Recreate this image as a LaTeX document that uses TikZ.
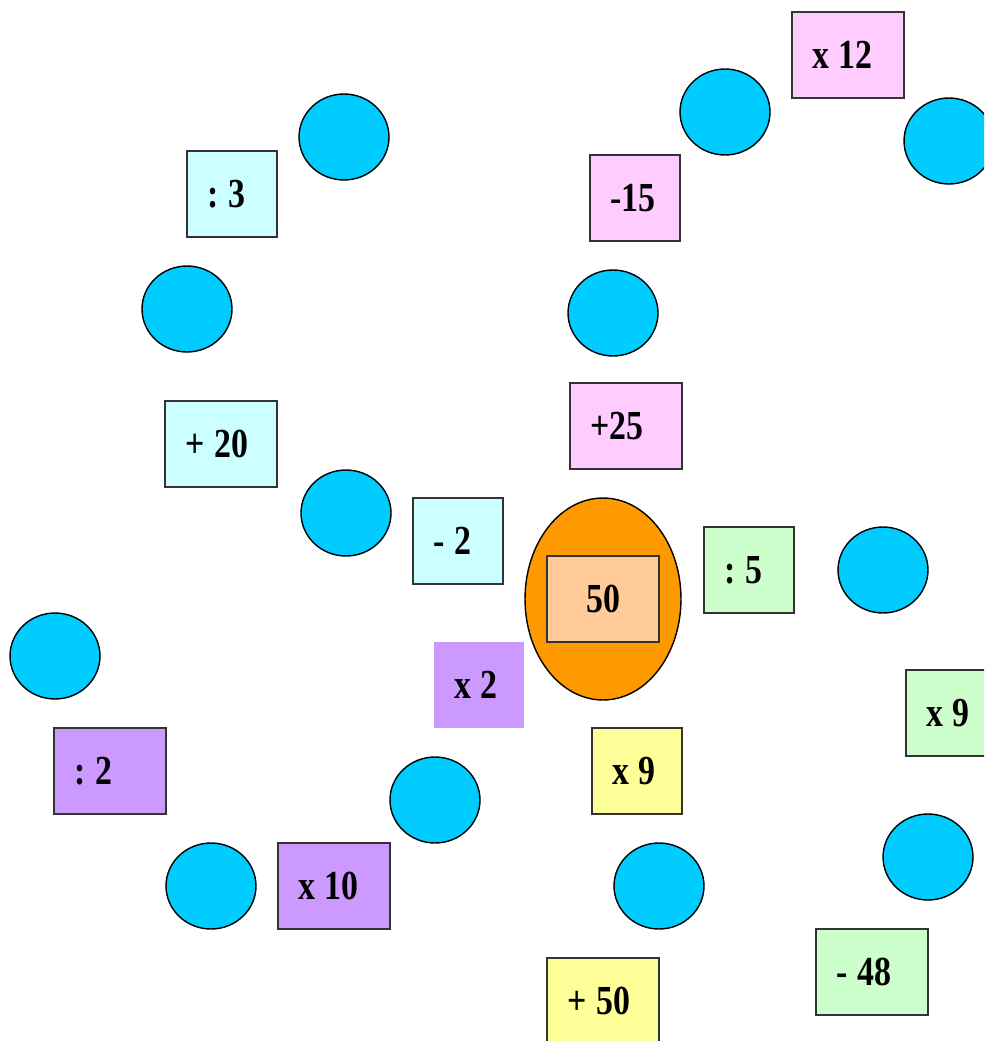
\documentclass[tikz,border=0pt]{standalone}
\usepackage{fontspec}
\usepackage{tikz}
\usetikzlibrary{shapes.geometric}
\newfontfamily\opfont{Liberation Serif}[FakeStretch=0.82]
\definecolor{stonecyan}{HTML}{00CCFF}
\definecolor{opcyan}{HTML}{CCFFFF}
\definecolor{oppink}{HTML}{FFCCFF}
\definecolor{opgreen}{HTML}{CCFFCC}
\definecolor{oppurple}{HTML}{CC99FF}
\definecolor{opyellow}{HTML}{FFFF99}
\definecolor{startorange}{HTML}{FF9900}
\definecolor{startpeach}{HTML}{FFCC99}

\begin{document}
\begin{tikzpicture}[
  x=0.02cm, y=-0.02cm,
  stone/.style={ellipse, draw=black, line width=0.8pt, fill=stonecyan, minimum width=1.8cm, minimum height=1.72cm},
  opbox/.style={rectangle, draw=black!80, line width=0.8pt, minimum height=1.72cm, inner xsep=0.4cm, inner ysep=0pt, align=left, font=\opfont\bfseries\fontsize{23.5}{26}\selectfont, execute at begin node={\spaceskip=0.24em\xspaceskip=0.24em\relax}},
  narrow/.style={opbox, text width=1.0cm},
  wide/.style={opbox, text width=1.44cm},
  egg/.style={ellipse, draw=black, line width=0.8pt, fill=startorange, minimum width=3.12cm, minimum height=4.04cm},
]
  \clip (0,0) rectangle (984,1041);
  \fill[white] (0,0) rectangle (984,1041);

  % empty stones
  \node[stone] (s1) at (344,137) {};
  \node[stone] (s2) at (725,112) {};
  \node[stone] (s3) at (949,141) {};
  \node[stone] (s4) at (187,309) {};
  \node[stone] (s5) at (613,313) {};
  \node[stone] (s6) at (346,513) {};
  \node[stone] (s7) at (883,570) {};
  \node[stone] (s8) at (55,656) {};
  \node[stone] (s9) at (435,800) {};
  \node[stone] (s10) at (211,886) {};
  \node[stone] (s11) at (659,886) {};
  \node[stone] (s12) at (928,857) {};

  % start
  \node[egg] (start) at (603,599) {};
  \node[wide, fill=startpeach, align=center, inner xsep=0pt, text width=2.24cm] (startval) at (603,599) {50};

  % cyan path
  \node[narrow, fill=opcyan] (div3) at (232,194) {: 3};
  \node[wide, fill=opcyan] (plus20) at (221,444) {+ 20};
  \node[narrow, fill=opcyan] (minus2) at (458,541) {- 2};

  % pink path
  \node[narrow, fill=oppink] (minus15) at (635,198) {-15};
  \node[wide, fill=oppink] (times12) at (848,55) {x 12};
  \node[wide, fill=oppink] (plus25) at (626,426) {+25};

  % green path
  \node[narrow, fill=opgreen] (div5) at (749,570) {: 5};
  \node[narrow, fill=opgreen] (times9g) at (951,713) {x 9};
  \node[wide, fill=opgreen] (minus48) at (872,972) {- 48};

  % purple path
  \node[narrow, fill=oppurple, draw=none] (times2) at (479,685) {x 2};
  \node[wide, fill=oppurple] (div2) at (110,771) {: 2};
  \node[wide, fill=oppurple] (times10) at (334,886) {x 10};

  % yellow path
  \node[narrow, fill=opyellow] (times9y) at (637,771) {x 9};
  \node[wide, fill=opyellow] (plus50) at (603,1001) {+ 50};
\end{tikzpicture}
\end{document}
